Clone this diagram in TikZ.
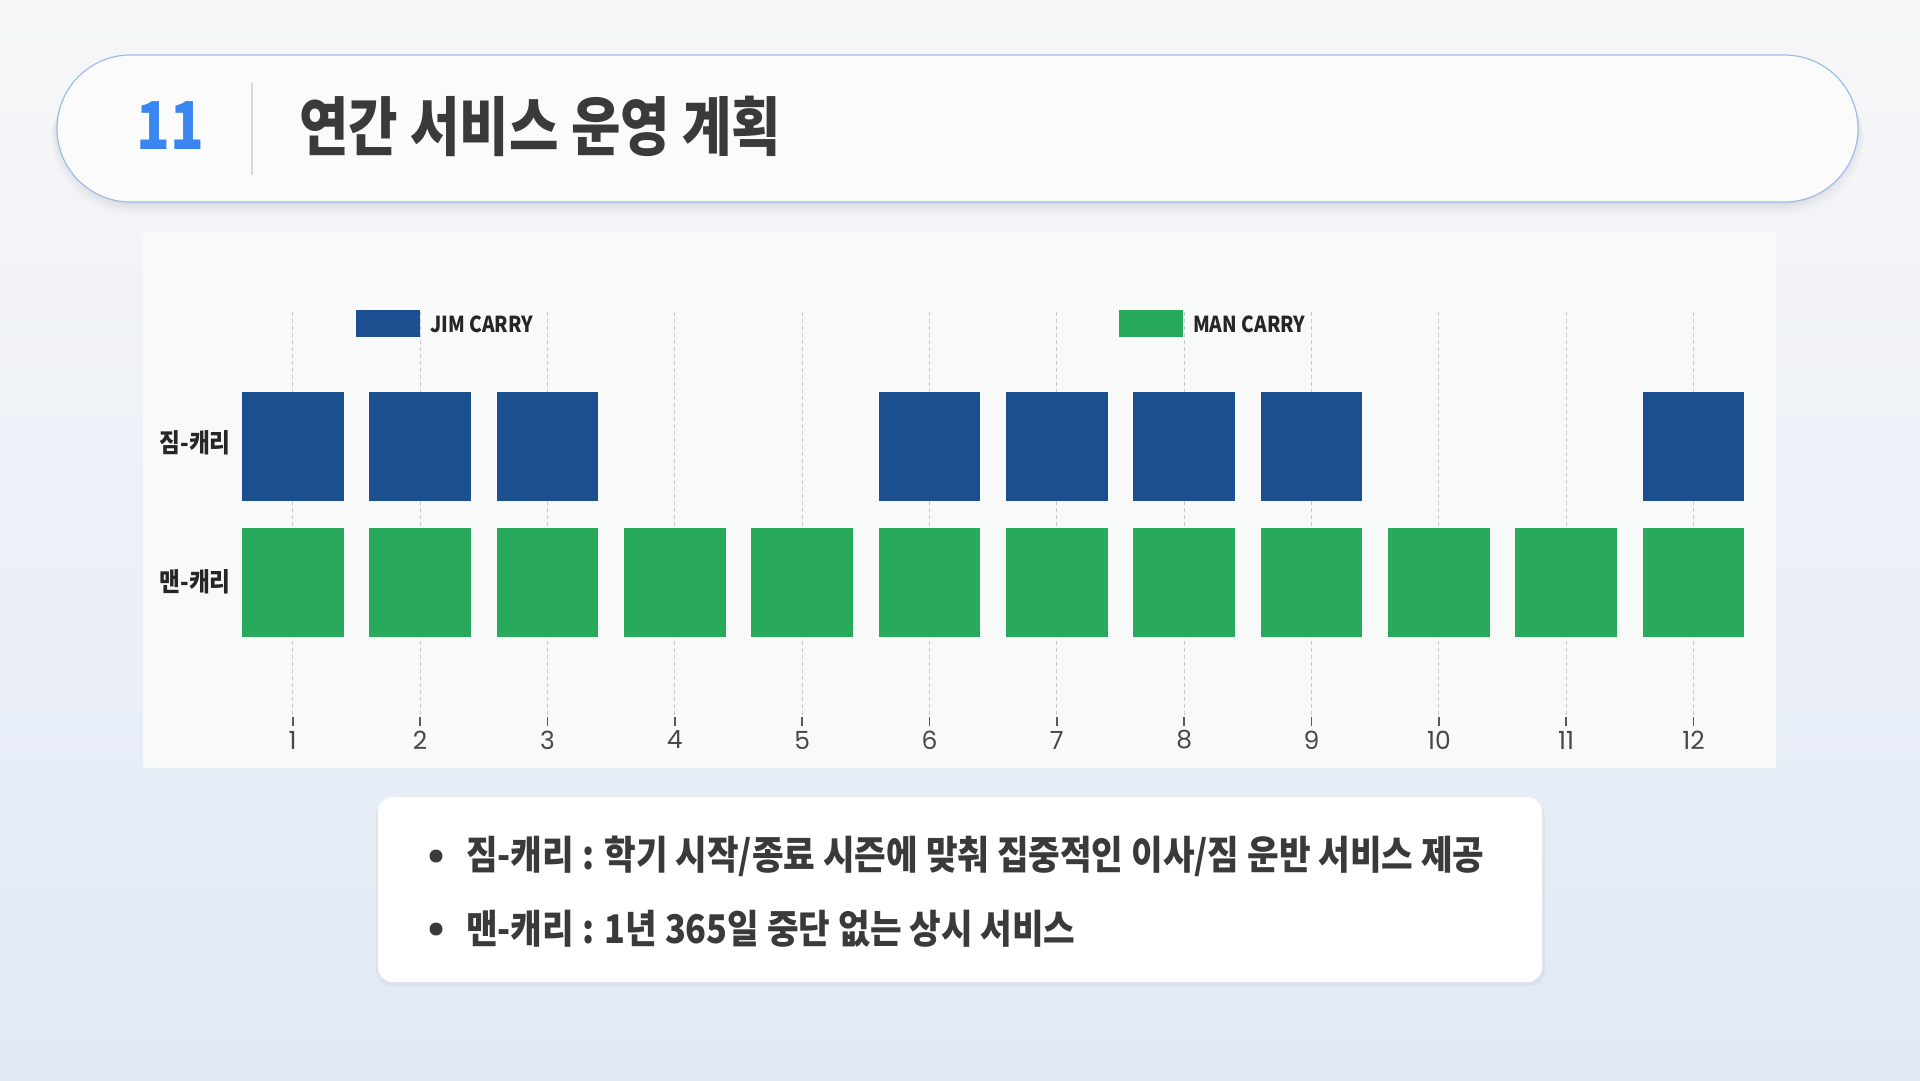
\documentclass[tikz,border=0pt]{standalone}
\usepackage{fontspec}
\newfontfamily\kr[FakeStretch=0.87]{Noto Sans CJK KR}
\newfontfamily\krn[FakeStretch=0.84]{Noto Sans CJK KR}
\newfontfamily\pop{Poppins}
\definecolor{bgtop}{HTML}{F7F7F8}
\definecolor{bgbot}{HTML}{E1E9F6}
\definecolor{pillborder}{HTML}{9DBCEB}
\definecolor{accent}{HTML}{3A86F0}
\definecolor{ink}{HTML}{3A3A3A}
\definecolor{jimblue}{HTML}{1C4F8F}
\definecolor{mangreen}{HTML}{28A95B}
\definecolor{panel}{HTML}{F8F9F9}
\definecolor{grid}{HTML}{C9C9C9}
\tikzset{
  jimbox/.style={fill=jimblue, minimum width=101.6pt, minimum height=109pt, inner sep=0pt, draw=none},
  manbox/.style={fill=mangreen, minimum width=101.6pt, minimum height=109pt, inner sep=0pt, draw=none},
  gridline/.style={grid, line width=0.9pt, dash pattern=on 4pt off 3pt},
  tickmark/.style={draw=black!65, line width=1.6pt},
  monthlabel/.style={text=black!72, font=\pop\fontsize{25}{27}\selectfont, inner sep=0pt},
  rowlabel/.style={text=black!85, font=\kr\bfseries\fontsize{26}{28}\selectfont, inner sep=0pt, anchor=east},
  legendtext/.style={text=black!85, font=\kr\bfseries\fontsize{22}{24}\selectfont, inner sep=0pt, anchor=west},
  bullettext/.style={text=ink, font=\kr\bfseries\fontsize{39.5}{42}\selectfont, inner sep=0pt, anchor=west},
}
\begin{document}
\begin{tikzpicture}[x=1pt,y=-1pt]
\useasboundingbox (0,0) rectangle (1920,1080);
\shade[top color=bgtop, bottom color=bgbot] (0,0) rectangle (1920,1080);

% header pill with soft shadow
\foreach \d/\o in {12/0.015,9/0.02,6/0.025,3/0.03}
  \fill[black, opacity=\o, rounded corners=80pt] (57-\d*0.5,55+\d*0.6) rectangle (1858+\d*0.5,202+\d);
\draw[pillborder, line width=1.2pt, fill=white!50!bgtop, rounded corners=73.5pt] (57,55) rectangle (1858,202);
\node[text=accent, font=\krn\bfseries\fontsize{66}{68}\selectfont, inner sep=0pt] (num) at (170,126) {11};
\draw[black!15, line width=1.2pt] (252,83) -- (252,175);
\node[text=ink, font=\krn\bfseries\fontsize{64}{66}\selectfont, inner sep=0pt, anchor=west] (title) at (299,126) {연간 서비스 운영 계획};

% chart panel
\fill[panel] (143,233) rectangle (1776,768);

% grid lines, ticks, month labels
\foreach \m in {1,...,12} {
  \pgfmathsetmacro{\cx}{292.7+(\m-1)*127.35}
  \draw[gridline] (\cx,312) -- (\cx,717);
  \draw[tickmark] (\cx,717) -- (\cx,726);
  \node[monthlabel] (lab\m) at (\cx,740) {\m};
}

% legend
\fill[jimblue] (356,310) rectangle (420,337);
\node[legendtext] (legj) at (430,324) {JIM CARRY};
\fill[mangreen] (1119,310) rectangle (1183,337);
\node[legendtext] (legm) at (1193,324) {MAN CARRY};

% row labels
\node[rowlabel] (rowj) at (231,443) {짐-캐리};
\node[rowlabel] (rowm) at (231,582) {맨-캐리};

% boxes
\foreach \m in {1,2,3,6,7,8,9,12} {
  \pgfmathsetmacro{\cx}{292.7+(\m-1)*127.35}
  \node[jimbox] (j\m) at (\cx,446.5) {};
}
\foreach \m in {1,...,12} {
  \pgfmathsetmacro{\cx}{292.7+(\m-1)*127.35}
  \node[manbox] (m\m) at (\cx,582.5) {};
}

% bottom card
\fill[black, opacity=0.03, rounded corners=16pt] (376,800) rectangle (1545,986);
\fill[white, rounded corners=15pt] (378,797) rectangle (1542,982);
\fill[ink] (436,856) circle (6.5pt);
\fill[ink] (436,929) circle (6.5pt);
\node[bullettext] (b1) at (466,856) {짐-캐리 : 학기 시작/종료 시즌에 맞춰 집중적인 이사/짐 운반 서비스 제공};
\node[bullettext] (b2) at (466,929) {맨-캐리 : 1년 365일 중단 없는 상시 서비스};
\end{tikzpicture}
\end{document}
